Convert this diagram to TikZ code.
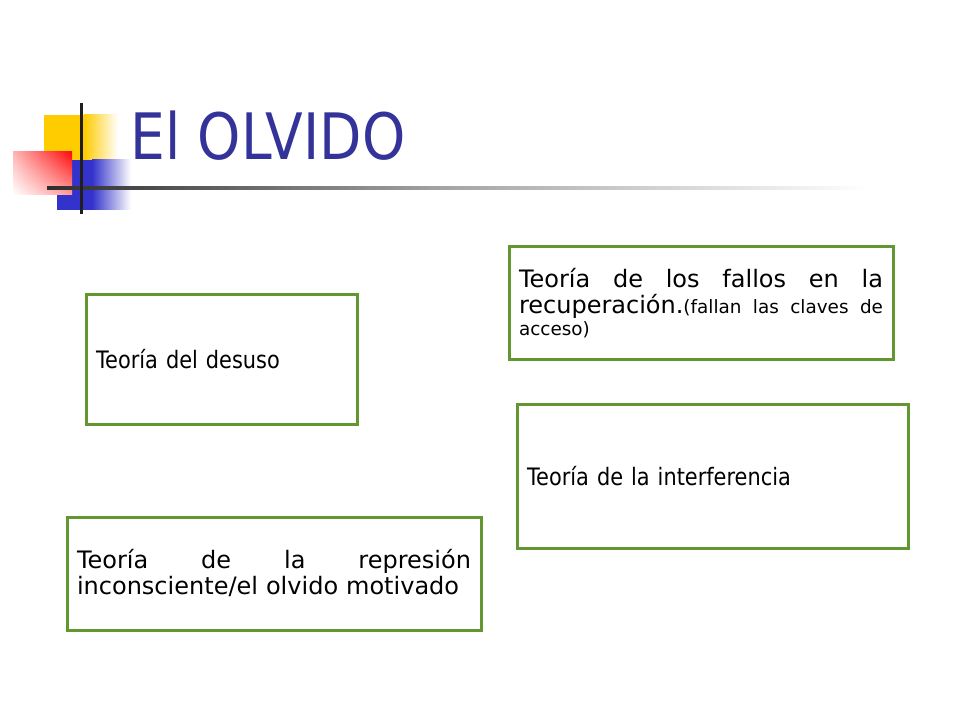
\documentclass[tikz,border=0pt]{standalone}
\usepackage{fontspec}
\usetikzlibrary{shadings}
\setmainfont{DejaVu Sans}
\newfontfamily\narrowfont[FakeStretch=0.87]{DejaVu Sans}
\newfontfamily\titlefont[FakeStretch=0.86]{DejaVu Sans}
\setlength{\parindent}{0pt}
\definecolor{boxgreen}{RGB}{98,150,48}
\definecolor{titleblue}{RGB}{51,51,153}
\definecolor{decoyellow}{RGB}{255,204,0}
\definecolor{decoblue}{RGB}{51,51,204}
\definecolor{decored}{RGB}{255,10,10}
\begin{document}
\begin{tikzpicture}[x=0.75pt,y=-0.75pt,
  theorybox/.style={draw=boxgreen, line width=2.25pt, fill=white, inner xsep=7.5pt, inner ysep=0pt, align=left, anchor=center},
  bodytext/.style={font=\fontsize{18}{19.5}\selectfont},
  narrowtext/.style={font=\narrowfont\fontsize{18}{21}\selectfont}
]
\fill[white] (0,0) rectangle (960,720);
\useasboundingbox (0,0) rectangle (960,720);
% decoration: yellow square
\fill[decoyellow] (44,115) rectangle (84.5,160);
\shade[left color=decoyellow, right color=white] (84,115) rectangle (118,160);
% blue square
\fill[decoblue] (57,160) rectangle (92.5,210);
\shade[left color=decoblue, right color=white] (92,160) rectangle (131,210);
% red square
\shade[upper right=decored, lower left=white, upper left=decored!30!white, lower right=decored!40!white] (13,152) rectangle (72,195);
% lines
\shade[left color=black!82, right color=black!35] (47,186.5) rectangle (450.5,189.5);
\shade[left color=black!35, right color=white] (450,186.5) rectangle (870,189.5);
\fill[black!88] (79.5,103) rectangle (82.5,214);
% title
\node[anchor=base west, inner sep=0pt, text=titleblue, font=\titlefont\fontsize{48}{56}\selectfont] (title) at (130,160) {El OLVIDO};
% boxes
\node[theorybox, narrowtext, text width=188.25pt, minimum height=96.75pt] (desuso) at (221.5,359.5) {Teoría del desuso};
\node[theorybox, bodytext, text width=273pt, minimum height=84pt] (fallos) at (701,303) {%
\fontsize{18}{20}\selectfont
\hbox to\hsize{Teoría\hfill de\hfill los\hfill fallos\hfill en\hfill la}\par
\hbox to\hsize{recuperación.{\fontsize{13.8}{16.5}\selectfont(fallan\hfill las\hfill claves\hfill de}}\par
\fontsize{13.8}{16.5}\selectfont acceso)\par};
\node[theorybox, bodytext, text width=295.5pt, minimum height=84.75pt] (represion) at (274,573.5) {%
\hbox to\hsize{Teoría\hfill de\hfill la\hfill represión}\par
inconsciente/el olvido motivado};
\node[theorybox, narrowtext, text width=278.25pt, minimum height=108pt] (interferencia) at (712.5,476) {Teoría de la interferencia};
\end{tikzpicture}
\end{document}
